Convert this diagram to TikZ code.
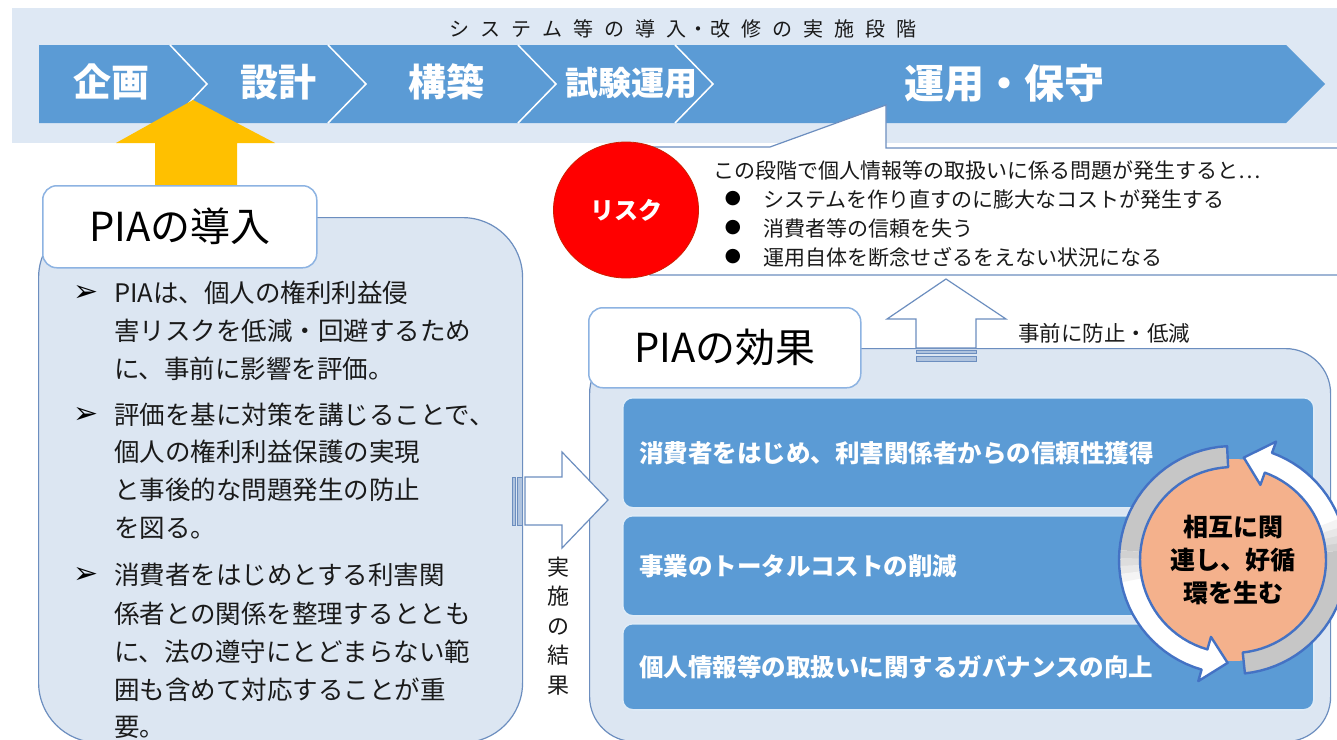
\documentclass[tikz,border=0pt]{standalone}
\usepackage{fontspec}
\setmainfont{Noto Sans CJK JP}
\newfontfamily\dejavu{DejaVu Sans}
\usetikzlibrary{shapes.geometric}
\definecolor{bandc}{HTML}{DEE8F4}
\definecolor{barblue}{HTML}{5B9BD5}
\definecolor{cont}{HTML}{DCE6F2}
\definecolor{contline}{HTML}{6C8EBF}
\definecolor{lablue}{HTML}{8DB3E2}
\definecolor{yel}{HTML}{FFC000}
\definecolor{orng}{HTML}{F4B18C}
\definecolor{arrblue}{HTML}{4472C4}
\definecolor{grayarr}{HTML}{C6C6C6}
\definecolor{txt}{HTML}{1A1A1A}
\newcommand\tsp[1]{\makebox[31pt][l]{#1}}
\begin{document}
\begin{tikzpicture}[x=1pt,y=-1pt,
 chevtxt/.style={text=white, font=\fontsize{38}{40}\selectfont\bfseries, inner sep=0pt},
 bodytxt/.style={anchor=west, inner sep=0pt, text=txt, font=\fontsize{25.5}{30}\selectfont, text height=22.4pt, text depth=3.1pt},
 calltxt/.style={anchor=west, inner sep=0pt, text=txt, font=\fontsize{21}{25}\selectfont, text height=18.5pt, text depth=2.5pt},
 boxtxt/.style={anchor=west, inner sep=0pt, text=white, font=\fontsize{24.5}{28}\selectfont\bfseries, text height=21.6pt, text depth=2.9pt},
 container/.style={draw=contline, line width=1.2pt, fill=cont, anchor=north west, inner sep=0pt},
 labelbox/.style={draw=lablue, line width=1.5pt, fill=white, rounded corners=14pt, anchor=north west, inner sep=0pt, text=black, font=\fontsize{40}{44}\selectfont},
 effbox/.style={fill=barblue, draw=white!80!barblue, line width=1.5pt, rounded corners=10pt, anchor=north west, inner sep=0pt},
 hollow/.style={fill=white, draw=contline, line width=1.2pt},
 stripe/.style={fill=cont!60!contline, draw=contline, line width=0.6pt},
 bul/.style={inner sep=0pt, text=black},
 sep/.style={draw=white, line width=1.5pt},
 arrline/.style={draw=arrblue, line width=2.4pt, line join=round},
]
\useasboundingbox (0,0) rectangle (1337,739);
\clip (0,0) rectangle (1337,739);
\fill[white] (0,0) rectangle (1337,739);

% top band
\node[fill=bandc, minimum width=1330pt, minimum height=135pt, anchor=north west, inner sep=0pt] (band) at (12,8) {};
\node[anchor=west, inner sep=0pt, text=txt, font=\fontsize{20}{22}\selectfont] (title) at (449,29)
 {\tsp{シ}\tsp{ス}\tsp{テ}\tsp{ム}\tsp{等}\tsp{の}\tsp{導}\makebox[20pt][l]{入}\makebox[24pt][c]{・}\tsp{改}\tsp{修}\tsp{の}\tsp{実}\tsp{施}\tsp{段}階};

% chevron bar
\fill[barblue] (39,45) -- (1286,45) -- (1325,84) -- (1286,123) -- (39,123) -- cycle;
\draw[sep] (170,45) -- (207,84) -- (170,123);
\draw[sep] (328,45) -- (366,84) -- (328,123);
\draw[sep] (518,45) -- (556,84) -- (518,123);
\draw[sep] (675,45) -- (713,84) -- (675,123);
\node[chevtxt] (s1) at (111,82) {企画};
\node[chevtxt] (s2) at (278,82) {設計};
\node[chevtxt] (s3) at (446,82) {構築};
\node[chevtxt, font=\fontsize{33}{36}\selectfont\bfseries] (s4) at (631,83) {試験運用};
\node[chevtxt, font=\fontsize{40}{44}\selectfont\bfseries] (s5) at (1004,83) {運用・保守};

% yellow arrow
\fill[yel] (193,100) -- (275,143) -- (237,143) -- (237,200) -- (155,200) -- (155,143) -- (116,143) -- cycle;

% callout
\path[fill=white, draw=contline, line width=1.2pt] (650,147) -- (770,147) -- (886,105) -- (886,148) -- (1350,148) -- (1350,275) -- (650,275) -- cycle;
\node[ellipse, minimum width=145pt, minimum height=136pt, fill=red, draw=red!70!orange!80!black, line width=0.8pt, inner sep=0pt,
 text=white, font=\fontsize{24}{26}\selectfont\bfseries] (risk) at (626,210) {リスク};
\node[calltxt] (c0) at (713,170) {この段階で個人情報等の取扱いに係る問題が発生すると…};
\node[bul, font=\dejavu\fontsize{19}{20}\selectfont] (b1) at (733,199) {●};
\node[bul, font=\dejavu\fontsize{19}{20}\selectfont] (b2) at (733,228) {●};
\node[bul, font=\dejavu\fontsize{19}{20}\selectfont] (b3) at (733,257) {●};
\node[calltxt] (c1) at (763,199) {システムを作り直すのに膨大なコストが発生する};
\node[calltxt] (c2) at (763,228) {消費者等の信頼を失う};
\node[calltxt] (c3) at (763,257) {運用自体を断念せざるをえない状況になる};

% left container
\node[container, rounded corners=60pt, minimum width=484pt, minimum height=525pt] (intro) at (38,217) {};
\node[labelbox, minimum width=274pt, minimum height=82pt] (introlab) at (42,185) {PIAの導入};
\foreach \yy in {293,415,575} {
 \node[bul, font=\dejavu\fontsize{30}{32}\selectfont] at (86,\yy) {➢};
}
\node[bodytxt] (l1) at (114,293) {PIAは、個人の権利利益侵};
\node[bodytxt] (l2) at (114,331) {害リスクを低減・回避するため};
\node[bodytxt] (l3) at (114,369) {に、事前に影響を評価。};
\node[bodytxt] (l4) at (114,415) {評価を基に対策を講じることで、};
\node[bodytxt] (l5) at (114,452) {個人の権利利益保護の実現};
\node[bodytxt] (l6) at (114,490) {と事後的な問題発生の防止};
\node[bodytxt] (l7) at (114,528) {を図る。};
\node[bodytxt] (l8) at (114,575) {消費者をはじめとする利害関};
\node[bodytxt] (l9) at (114,614) {係者との関係を整理するととも};
\node[bodytxt] (l10) at (114,652) {に、法の遵守にとどまらない範};
\node[bodytxt] (l11) at (114,690) {囲も含めて対応することが重};
\node[bodytxt] (l12) at (114,727) {要。};

% right container
\node[container, rounded corners=45pt, minimum width=741pt, minimum height=393pt] (effect) at (589,348) {};
\node[labelbox, minimum width=272pt, minimum height=80pt] (efflab) at (588,307) {PIAの効果};

% up hollow arrow
\path[hollow] (946,279) -- (1006,319) -- (976,319) -- (976,348) -- (916,348) -- (916,319) -- (887,319) -- cycle;
\path[stripe] (916,350) rectangle (976,353);
\path[stripe] (916,356) rectangle (976,361);
\node[anchor=west, inner sep=0pt, text=txt, font=\fontsize{21.5}{24}\selectfont] (prev) at (1018,333) {事前に防止・低減};

% effect boxes
\node[effbox, minimum width=691pt, minimum height=110pt] (e1) at (622,397) {};
\node[effbox, minimum width=691pt, minimum height=100pt] (e2) at (622,515) {};
\node[effbox, minimum width=691pt, minimum height=86pt] (e3) at (622,623) {};
\node[boxtxt] (t1) at ([xshift=17pt]e1.west) {消費者をはじめ、利害関係者からの信頼性獲得};
\node[boxtxt] (t2) at ([xshift=17pt]e2.west) {事業のトータルコストの削減};
\node[boxtxt] (t3) at ([xshift=17pt]e3.west) {個人情報等の取扱いに関するガバナンスの向上};

% cycle circle
\node[circle, minimum size=202pt, fill=orng, inner sep=0pt] (cyc) at (1233,560) {};
% arrow A (right side)
\path[fill=white]
 plot[domain=84:-70, samples=40] ({1233+114*cos(\x)},{560+114*sin(\x)})
 -- ({1233+126*cos(-70)},{560+126*sin(-70)})
 -- ({1233+103*cos(-84)},{560+103*sin(-84)})
 -- ({1233+80*cos(-70)},{560+80*sin(-70)})
 -- plot[domain=-70:84, samples=40] ({1233+93*cos(\x)},{560+93*sin(\x)}) -- cycle;
\fill[grayarr] plot[domain=84:-5, samples=30] ({1233+114*cos(\x)},{560+114*sin(\x)})
 -- plot[domain=-5:84, samples=30] ({1233+93*cos(\x)},{560+93*sin(\x)}) -- cycle;
\foreach \a/\c in {-5/80,-9/60,-13/40,-17/20} {
 \fill[grayarr!\c!white] plot[domain=\a:\a-4.3, samples=4] ({1233+114*cos(\x)},{560+114*sin(\x)})
 -- plot[domain=\a-4.3:\a, samples=4] ({1233+93*cos(\x)},{560+93*sin(\x)}) -- cycle;
}
\path[arrline]
 plot[domain=84:-70, samples=40] ({1233+114*cos(\x)},{560+114*sin(\x)})
 -- ({1233+126*cos(-70)},{560+126*sin(-70)})
 -- ({1233+103*cos(-84)},{560+103*sin(-84)})
 -- ({1233+80*cos(-70)},{560+80*sin(-70)})
 -- plot[domain=-70:84, samples=40] ({1233+93*cos(\x)},{560+93*sin(\x)}) -- cycle;
% arrow B (left side)
\path[fill=white]
 plot[domain=-93:-254, samples=40] ({1233+114*cos(\x)},{560+114*sin(\x)})
 -- ({1233+126*cos(-254)},{560+126*sin(-254)})
 -- ({1233+103*cos(-267)},{560+103*sin(-267)})
 -- ({1233+80*cos(-254)},{560+80*sin(-254)})
 -- plot[domain=-254:-93, samples=40] ({1233+93*cos(\x)},{560+93*sin(\x)}) -- cycle;
\fill[grayarr] plot[domain=-93:-175, samples=30] ({1233+114*cos(\x)},{560+114*sin(\x)})
 -- plot[domain=-175:-93, samples=30] ({1233+93*cos(\x)},{560+93*sin(\x)}) -- cycle;
\foreach \a/\c in {-175/80,-179/60,-183/40,-187/20} {
 \fill[grayarr!\c!white] plot[domain=\a:\a-4.3, samples=4] ({1233+114*cos(\x)},{560+114*sin(\x)})
 -- plot[domain=\a-4.3:\a, samples=4] ({1233+93*cos(\x)},{560+93*sin(\x)}) -- cycle;
}
\path[arrline]
 plot[domain=-93:-254, samples=40] ({1233+114*cos(\x)},{560+114*sin(\x)})
 -- ({1233+126*cos(-254)},{560+126*sin(-254)})
 -- ({1233+103*cos(-267)},{560+103*sin(-267)})
 -- ({1233+80*cos(-254)},{560+80*sin(-254)})
 -- plot[domain=-254:-93, samples=40] ({1233+93*cos(\x)},{560+93*sin(\x)}) -- cycle;
\node[font=\fontsize{25}{33}\selectfont\bfseries, align=center, text=black, inner sep=0pt] (cyctxt) at (cyc) {相互に関\\連し、好循\\環を生む};

% right hollow arrow
\path[stripe] (512,477) rectangle (515,525);
\path[stripe] (517,477) rectangle (522,525);
\path[hollow] (525,477) -- (562,477) -- (562,452) -- (608,500) -- (562,548) -- (562,525) -- (525,525) -- cycle;
\node[align=center, inner sep=0pt, text=txt, font=\fontsize{22}{29.5}\selectfont] (result) at (558,626) {実\\施\\の\\結\\果};
\end{tikzpicture}
\end{document}
